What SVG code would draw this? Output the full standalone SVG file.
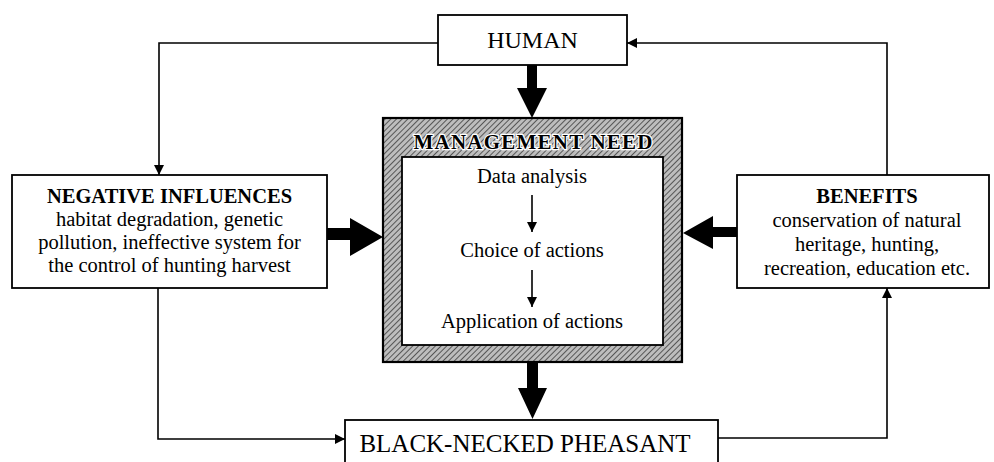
<svg xmlns="http://www.w3.org/2000/svg" width="994" height="462" viewBox="0 0 994 462">
<defs>
<style>
.box{fill:#fff;stroke:#000;stroke-width:1.8}
.t{font-family:"Liberation Serif","Times New Roman",serif;fill:#000;text-anchor:middle}
.b{font-weight:bold}
.ln{fill:none;stroke:#000;stroke-width:1.6}
.big{fill:#000}
</style>
<pattern id="hatch" width="4" height="4" patternUnits="userSpaceOnUse" patternTransform="rotate(45)">
<rect width="4" height="4" fill="#bdbdbd"/>
<line x1="0" y1="0" x2="0" y2="4" stroke="#333" stroke-width="1.5"/>
</pattern>
<marker id="ah" viewBox="0 0 10 10" refX="10" refY="5" markerWidth="10" markerHeight="10" markerUnits="userSpaceOnUse" orient="auto">
<path d="M0,0 L10,5 L0,10 Z" fill="#000"/>
</marker>
</defs>

<g id="human">
<rect class="box" x="438" y="15" width="189" height="50"/>
<text class="t" x="532.5" y="48" font-size="24">HUMAN</text>
</g>

<g id="management">
<rect x="383" y="118" width="299" height="244" fill="url(#hatch)" stroke="#000" stroke-width="2.2"/>
<text class="t b" x="533" y="149" font-size="21" textLength="239" lengthAdjust="spacing" stroke="#fff" stroke-width="2.5" paint-order="stroke">MANAGEMENT NEED</text>
<rect class="box" x="402" y="157" width="261" height="188" stroke-width="2.2"/>
<text class="t" x="532" y="183" font-size="20.5">Data analysis</text>
<text class="t" x="532" y="257" font-size="20.5">Choice of actions</text>
<text class="t" x="532" y="328" font-size="20.5">Application of actions</text>
<line class="ln" x1="532" y1="195" x2="532" y2="232" marker-end="url(#ah)"/>
<line class="ln" x1="532" y1="270" x2="532" y2="307" marker-end="url(#ah)"/>
</g>

<g id="negative">
<rect class="box" x="12" y="175" width="315" height="113"/>
<text class="t b" x="169.5" y="203" font-size="20.5">NEGATIVE INFLUENCES</text>
<text class="t" x="169.5" y="226" font-size="20.5">habitat degradation, genetic</text>
<text class="t" x="169.5" y="249" font-size="20.5">pollution, ineffective system for</text>
<text class="t" x="169.5" y="272" font-size="20.5">the control of hunting harvest</text>
</g>

<g id="benefits">
<rect class="box" x="737" y="175" width="252" height="113"/>
<text class="t b" x="867" y="203" font-size="20.5">BENEFITS</text>
<text class="t" x="867" y="227" font-size="20.5">conservation of natural</text>
<text class="t" x="867" y="251" font-size="20.5">heritage, hunting,</text>
<text class="t" x="867" y="275" font-size="20.5">recreation, education etc.</text>
</g>

<g id="pheasant">
<rect class="box" x="345" y="420" width="373" height="50"/>
<text class="t" x="525" y="452" font-size="25">BLACK-NECKED PHEASANT</text>
</g>

<g id="connectors">
<path class="ln" d="M438,43 H159 V175" marker-end="url(#ah)"/>
<path class="ln" d="M887,175 V43 H627" marker-end="url(#ah)"/>
<path class="ln" d="M158,288 V439 H345" marker-end="url(#ah)"/>
<path class="ln" d="M718,438 H887 V288" marker-end="url(#ah)"/>
<path class="big" d="M527,65 H537 V88 H547 L532,118 L517,88 H527 Z"/>
<path class="big" d="M527,362 H538 V388 H547 L532.5,419 L518,388 H527 Z"/>
<path class="big" d="M327,228 H350 V218 L383,237 L350,256 V240 H327 Z"/>
<path class="big" d="M737,227 H713 V216 L683,233 L713,249 V237 H737 Z"/>
</g>
</svg>
